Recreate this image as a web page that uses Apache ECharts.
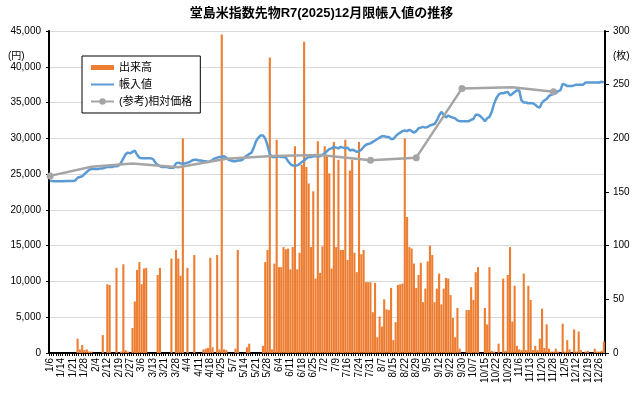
<!DOCTYPE html>
<html>
<head>
<meta charset="utf-8">
<script src="https://cdn.jsdelivr.net/npm/echarts@6/dist/echarts.min.js"></script>
<style>
  html, body { margin: 0; padding: 0; background: #fff; }
  #chart { width: 643px; height: 397px; }
</style>
</head>
<body>
<div id="chart"></div>
<script>
// 2025年の取引日（月ごと）
const tradeDays = {
  1: [6, 7, 8, 9, 10, 14, 15, 16, 17, 20, 21, 22, 23, 24, 27, 28, 29, 30, 31],
  2: [3, 4, 5, 6, 7, 10, 12, 13, 14, 17, 18, 19, 20, 21, 25, 26, 27, 28],
  3: [3, 4, 5, 6, 7, 10, 11, 12, 13, 14, 17, 18, 19, 21, 24, 25, 26, 27, 28, 31],
  4: [1, 2, 3, 4, 7, 8, 9, 10, 11, 14, 15, 16, 17, 18, 21, 22, 23, 24, 25, 28, 30],
  5: [1, 2, 7, 8, 9, 12, 13, 14, 15, 16, 19, 20, 21, 22, 23, 26, 27, 28, 29, 30],
  6: [2, 3, 4, 5, 6, 9, 10, 11, 12, 13, 16, 17, 18, 19, 20, 23, 24, 25, 26, 27, 30],
  7: [1, 2, 3, 4, 7, 8, 9, 10, 11, 14, 15, 16, 17, 18, 22, 23, 24, 25, 28, 29, 30, 31],
  8: [1, 4, 5, 6, 7, 8, 12, 13, 14, 15, 18, 19, 20, 21, 22, 25, 26, 27, 28, 29],
  9: [1, 2, 3, 4, 5, 8, 9, 10, 11, 12, 16, 17, 18, 19, 22, 24, 25, 26, 29, 30],
  10: [1, 2, 3, 6, 7, 8, 9, 10, 14, 15, 16, 17, 20, 21, 22, 23, 24, 27, 28, 29, 30, 31],
  11: [4, 5, 6, 7, 10, 11, 12, 13, 14, 17, 18, 19, 20, 21, 25, 26, 27, 28],
  12: [1, 2, 3, 4, 5, 8, 9, 10, 11, 12, 15, 16, 17, 18, 19, 22, 23, 24, 25, 26, 29, 30]
};
const dates = [];
Object.keys(tradeDays).forEach(function (m) {
  tradeDays[m].forEach(function (d) { dates.push(m + "/" + d); });
});

// 出来高（枚）
const volume = [
  0, 0, 0, 0, 0, 0, 0, 0, 0, 0, 0, 0, 2000, 500, 1100, 400, 500, 200, 200,
  0, 0, 0, 0, 2500, 0, 9600, 9500, 0, 0, 11900, 0, 200, 12400, 400, 200, 0, 3500,
  7200, 11600, 12700, 9600, 11800, 11900, 0, 0, 0, 0, 10900, 11900, 0, 0, 0, 0, 13200, 0, 14400, 13200,
  10800, 30000, 0, 11900, 0, 0, 13700, 0, 0, 0, 500, 600, 700, 13300, 800, 0, 13700, 500, 44500, 500, 400,
  0, 0, 0, 600, 14400, 0, 0, 0, 800, 1300, 0, 0, 0, 0, 0, 1000, 12700, 14400, 41300, 500,
  12500, 29800, 12000, 12000, 14800, 14500, 14600, 11700, 14800, 28900, 11700, 14000, 26300, 43500, 26000, 23700, 14800, 22600, 10400, 29600, 11200,
  14900, 28900, 27600, 25100, 11800, 29500, 14800, 27000, 14400, 14400, 29800, 13000, 25500, 27000, 14000, 11300, 29500, 13800, 14400, 9900, 9900, 9900,
  5700, 9800, 2200, 5100, 3700, 7500, 6100, 6000, 9100, 1800, 4300, 9500, 9600, 9700, 30000, 19000, 14800, 14600, 12500, 9100,
  10900, 12600, 7100, 9000, 12800, 15000, 13700, 7100, 9000, 11100, 6800, 9000, 10500, 10400, 8100, 4900, 2200, 6300, 600, 0,
  0, 6000, 6000, 9200, 7400, 11300, 12000, 0, 0, 6300, 4000, 12000, 300, 200, 0, 1300, 0, 10400, 300, 10900, 14800, 4400,
  9400, 1000, 500, 400, 11100, 400, 9400, 7400, 400, 1000, 400, 2000, 6200, 700, 4000, 600, 200, 200,
  600, 200, 0, 4100, 200, 1800, 500, 0, 3300, 200, 3000, 400, 0, 200, 300, 0, 0, 600, 200, 200, 300, 1600
];

// 帳入値（円）
const settle = [
  24050, 24050, 24000, 24000, 24000, 24000, 24000, 24050, 24050, 24050, 24050, 24100, 24500, 24600, 24700, 25000, 25300, 25600, 25700,
  25700, 25700, 25700, 25800, 25800, 25900, 26000, 26000, 26000, 26100, 26100, 26200, 26600, 27200, 27800, 28000, 27900, 28100,
  28300, 27700, 27300, 27200, 27200, 27200, 27200, 27200, 27100, 26600, 26300, 26100, 26000, 26000, 26000, 25900, 25900, 25900, 26500, 26600,
  26500, 26500, 26500, 26600, 26700, 26900, 27000, 27000, 26900, 26900, 26800, 26800, 26700, 26800, 27000, 27200, 27300, 27400, 27400, 27500, 27300,
  27000, 26900, 26800, 26800, 26900, 26900, 27000, 27300, 27600, 27800, 28000, 28700, 29600, 30100, 30400, 30400, 30000, 29000, 27800, 27400,
  27400, 27400, 27500, 27400, 27400, 27300, 26800, 26400, 26200, 26200, 26200, 26400, 26700, 26900, 27200, 27400, 27400, 27500, 27500, 27500, 27500,
  27700, 27900, 28200, 28500, 28600, 28800, 28700, 28600, 28800, 28700, 28600, 28700, 28300, 28400, 28300, 28100, 28200, 28400, 28800, 29100, 29200, 29300,
  29500, 29700, 29900, 30100, 30300, 30300, 30200, 30200, 29900, 29900, 30300, 30600, 30800, 31000, 31100, 31000, 31200, 31000, 30800, 31000,
  31400, 31500, 31600, 31500, 31600, 31800, 31900, 32000, 32500, 33200, 33700, 33300, 32900, 33200, 33000, 32900, 32800, 32500, 32400, 32400,
  32400, 32400, 32400, 32600, 32700, 33300, 33300, 33100, 32800, 32400, 32800, 33000, 33700, 34800, 35600, 36100, 36300, 36300, 36400, 36500, 36000, 36200,
  36500, 36700, 36700, 35300, 35000, 35000, 34900, 34900, 34900, 34700, 34400, 34300, 35000, 35300, 35500, 35900, 36100, 36200,
  36300, 36600, 36700, 37600, 37500, 37300, 37300, 37300, 37400, 37500, 37500, 37500, 37500, 37800, 37800, 37800, 37800, 37800, 37800, 37800, 37900, 37800
];

// (参考)相対価格（月末）
const refDates = ["1/6", "1/31", "2/28", "3/31", "4/30", "5/30", "6/30", "7/31", "8/29", "9/30", "10/31", "11/28"];
const refValues = [165, 173.5, 176.5, 173, 181, 183.5, 184.5, 179.5, 182, 246.5, 247.5, 243.5];

const refSeries = dates.map(function (d) {
  const i = refDates.indexOf(d);
  return i >= 0 ? refValues[i] : null;
});

const FONT = "'Liberation Sans', 'Noto Sans CJK JP', sans-serif";

var myChart = echarts.init(document.getElementById("chart"));
myChart.setOption({
  animation: false,
  textStyle: { fontFamily: FONT },
  title: {
    text: "堂島米指数先物R7(2025)12月限帳入値の推移",
    left: "center",
    top: 2,
    textStyle: { fontSize: 13, fontWeight: "bold", color: "#000", fontFamily: FONT }
  },
  legend: {
    orient: "vertical",
    left: 82,
    top: 56,
    padding: [6, 8, 6, 8],
    itemGap: 6,
    itemWidth: 23,
    itemHeight: 8,
    borderColor: "#000",
    borderWidth: 1,
    backgroundColor: "#fff",
    textStyle: { fontSize: 11, color: "#000", fontFamily: FONT },
    data: [
      { name: "出来高", icon: "path://M0,2.5H23V7.5H0Z" },
      { name: "帳入値", icon: "path://M0,3.5H23V5.5H0Z" },
      { name: "(参考)相対価格" }
    ]
  },
  grid: { left: 49, right: 38, top: 31, bottom: 44 },
  xAxis: {
    type: "category",
    data: dates,
    boundaryGap: true,
    axisLine: { lineStyle: { color: "#000", width: 2 } },
    axisTick: { show: true, interval: 0, length: 3, lineStyle: { color: "#000" } },
    axisLabel: {
      interval: 4,
      rotate: 90,
      fontSize: 10,
      color: "#000",
      margin: 5,
      fontFamily: FONT
    }
  },
  yAxis: [
    {
      type: "value",
      min: 0,
      max: 45000,
      interval: 5000,
      axisLine: { show: true, lineStyle: { color: "#000", width: 2 } },
      axisTick: { show: true, length: 3, lineStyle: { color: "#000" } },
      splitLine: { lineStyle: { color: "#d9d9d9" } },
      axisLabel: {
        fontSize: 10,
        color: "#000",
        margin: 8,
        formatter: function (v) { return v.toLocaleString("en-US"); }
      }
    },
    {
      type: "value",
      min: 0,
      max: 300,
      interval: 50,
      axisLine: { show: true, lineStyle: { color: "#000", width: 2 } },
      axisTick: { show: true, length: 4, lineStyle: { color: "#000" } },
      splitLine: { show: false },
      axisLabel: { fontSize: 10, color: "#000", margin: 8 }
    }
  ],
  graphic: [
    { type: "text", left: 8, top: 51, style: { text: "(円)", fontSize: 10, fill: "#000", fontFamily: FONT } },
    { type: "text", left: 613, top: 51, style: { text: "(枚)", fontSize: 10, fill: "#000", fontFamily: FONT } }
  ],
  series: [
    {
      name: "出来高",
      type: "bar",
      yAxisIndex: 0,
      data: volume,
      barCategoryGap: "8%",
      itemStyle: { color: "#ED7D31" }
    },
    {
      name: "帳入値",
      type: "line",
      yAxisIndex: 0,
      data: settle,
      symbol: "none",
      lineStyle: { color: "#5B9BD5", width: 2.5 },
      itemStyle: { color: "#5B9BD5" }
    },
    {
      name: "(参考)相対価格",
      type: "line",
      yAxisIndex: 1,
      data: refSeries,
      connectNulls: true,
      symbol: "circle",
      symbolSize: 7,
      lineStyle: { color: "#A5A5A5", width: 2.5 },
      itemStyle: { color: "#A5A5A5" }
    }
  ]
});
</script>
</body>
</html>
